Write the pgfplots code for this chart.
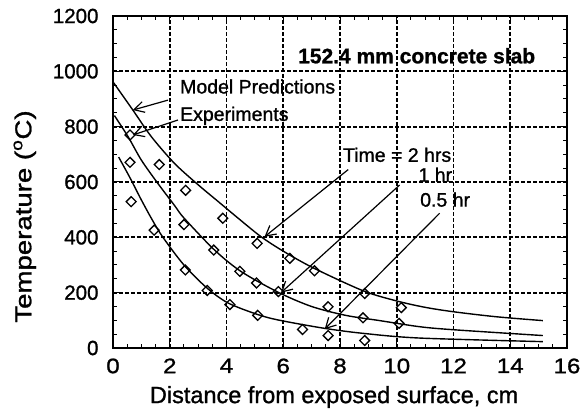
\documentclass[border=0pt]{standalone}
\usepackage{pgfplots}
\pgfplotsset{compat=1.18}
\usepackage{fontspec}
\setmainfont{Liberation Sans}[FakeBold=1.1]
\newfontfamily\widefont[FakeStretch=1.15,FakeBold=1.1]{Liberation Sans}
\usepackage{graphicx}
\usetikzlibrary{arrows.meta, decorations.markings}

\tikzset{annot/.style={anchor=base west, inner sep=0pt, font=\fontsize{19.5bp}{22bp}\selectfont},
  callout/.style={line width=1.2bp, -{Straight Barb[length=10bp,width=11bp]}},
  % dashed grid built from short solid strokes
  gridline/.style={decorate, decoration={markings,
    mark=between positions 0 and 1 step 6bp with {\draw[black, line width=1.7bp] (0,0) -- (4bp,0);}}}}

\begin{document}
\begin{tikzpicture}
\begin{axis}[
  name=ax,
  scale only axis,
  width=454bp, height=332bp,
  xmin=0, xmax=16, ymin=0, ymax=1200,
  xtick={0,2,...,16}, ytick={0,200,...,1200},
  minor x tick num=3, minor y tick num=3,
  tick align=inside,
  major tick length=6bp, minor tick length=4bp,
  axis line style={line width=1.5bp},
  tick style={black, line width=1bp},
  /pgf/number format/assume math mode=true,
  /pgf/number format/1000 sep={},
  xticklabel style={font=\widefont\fontsize{21bp}{24bp}\selectfont, yshift=-7bp},
  yticklabel style={font=\fontsize{20.5bp}{23bp}\selectfont, xshift=-11bp},
  xlabel={Distance from exposed surface, cm},
  ylabel={\scalebox{1.2}[1]{Temperature (\textsuperscript{o}C)}},
  xlabel style={font=\fontsize{23.5bp}{26bp}\selectfont, at={(axis description cs:0.487,-0.166)}, anchor=base},
  ylabel style={font=\fontsize{23bp}{26bp}\selectfont, at={(axis description cs:-0.18,0.396)}, anchor=base},
]
% grid
\pgfplotsinvokeforeach{2,4,6,8,10,12,14}{
  \path[gridline] (axis cs:#1,0) -- (axis cs:#1,1200);
}
\pgfplotsinvokeforeach{200,400,600,800,1000}{
  \path[gridline] (axis cs:0,#1) -- (axis cs:16,#1);
}
% model predictions
\addplot[smooth, line width=1.4bp] coordinates {
  (0,962) (0.7,860) (1.35,764) (2.17,667) (3.0,590) (3.7,530) (4.4,470)
  (5.22,402) (6.0,350) (7.05,290) (8.81,207) (10,170) (11,147) (12,131)
  (13.5,113) (15.15,99)};
\addplot[smooth, line width=1.4bp] coordinates {
  (0.05,840) (0.53,764) (1.0,679) (1.58,595) (2.17,515) (2.5,470) (3.58,354)
  (4.52,276) (5.85,200) (7.0,150) (8.2,118) (9.4,99) (10.8,77) (12,66)
  (15.15,45)};
\addplot[smooth, line width=1.4bp] coordinates {
  (0.2,690) (0.6,615) (1.0,535) (1.4,460) (1.76,400) (2.5,300) (3.3,218)
  (4.05,163) (5.1,121) (5.88,100) (7.46,71) (8.81,53) (10.8,36) (15.15,23)};
% experiments
\addplot[only marks, mark=square, mark size=3.5bp,
  mark options={rotate=45, line width=1.3bp, fill=white}] coordinates {
  (0.6,770) (0.6,671) (0.64,529) (1.63,663) (1.45,426) (2.56,570) (2.5,446)
  (2.55,282) (3.87,469) (3.55,354) (3.32,208) (4.47,277) (5.06,235) (4.12,157)
  (5.08,378) (5.83,204) (5.1,118) (6.23,324) (7.1,279) (6.68,67) (7.58,149)
  (7.58,45) (8.87,197) (8.81,109) (8.87,27) (10.16,146) (10.08,89)};
% annotations
\node[annot] at (axis cs:2.36,920) {Model Predictions};
\node[annot] at (axis cs:2.36,821) {Experiments};
\node[annot, font=\bfseries\fontsize{21bp}{24bp}\selectfont] at (axis cs:6.52,1029) {152.4 mm concrete slab};
\node[annot] at (axis cs:8.1,673) {Time = 2 hrs};
\node[annot] at (axis cs:10.76,601) {1 hr};
\node[annot] at (axis cs:10.82,511) {0.5 hr};
\draw[callout] (axis cs:1.94,896) -- (axis cs:0.70,860);
\draw[callout] (axis cs:2.29,824) -- (axis cs:0.70,770);
\draw[callout] (axis cs:8.29,645) -- (axis cs:5.34,402);
\draw[callout] (axis cs:10.1,589) -- (axis cs:5.92,200);
\draw[callout] (axis cs:11.51,487) -- (axis cs:7.46,68);
\end{axis}
\pgfresetboundingbox
\path[use as bounding box] ([shift={(-113bp,-61bp)}]ax.south west) rectangle ([shift={(18bp,16bp)}]ax.north east);
\end{tikzpicture}
\end{document}
